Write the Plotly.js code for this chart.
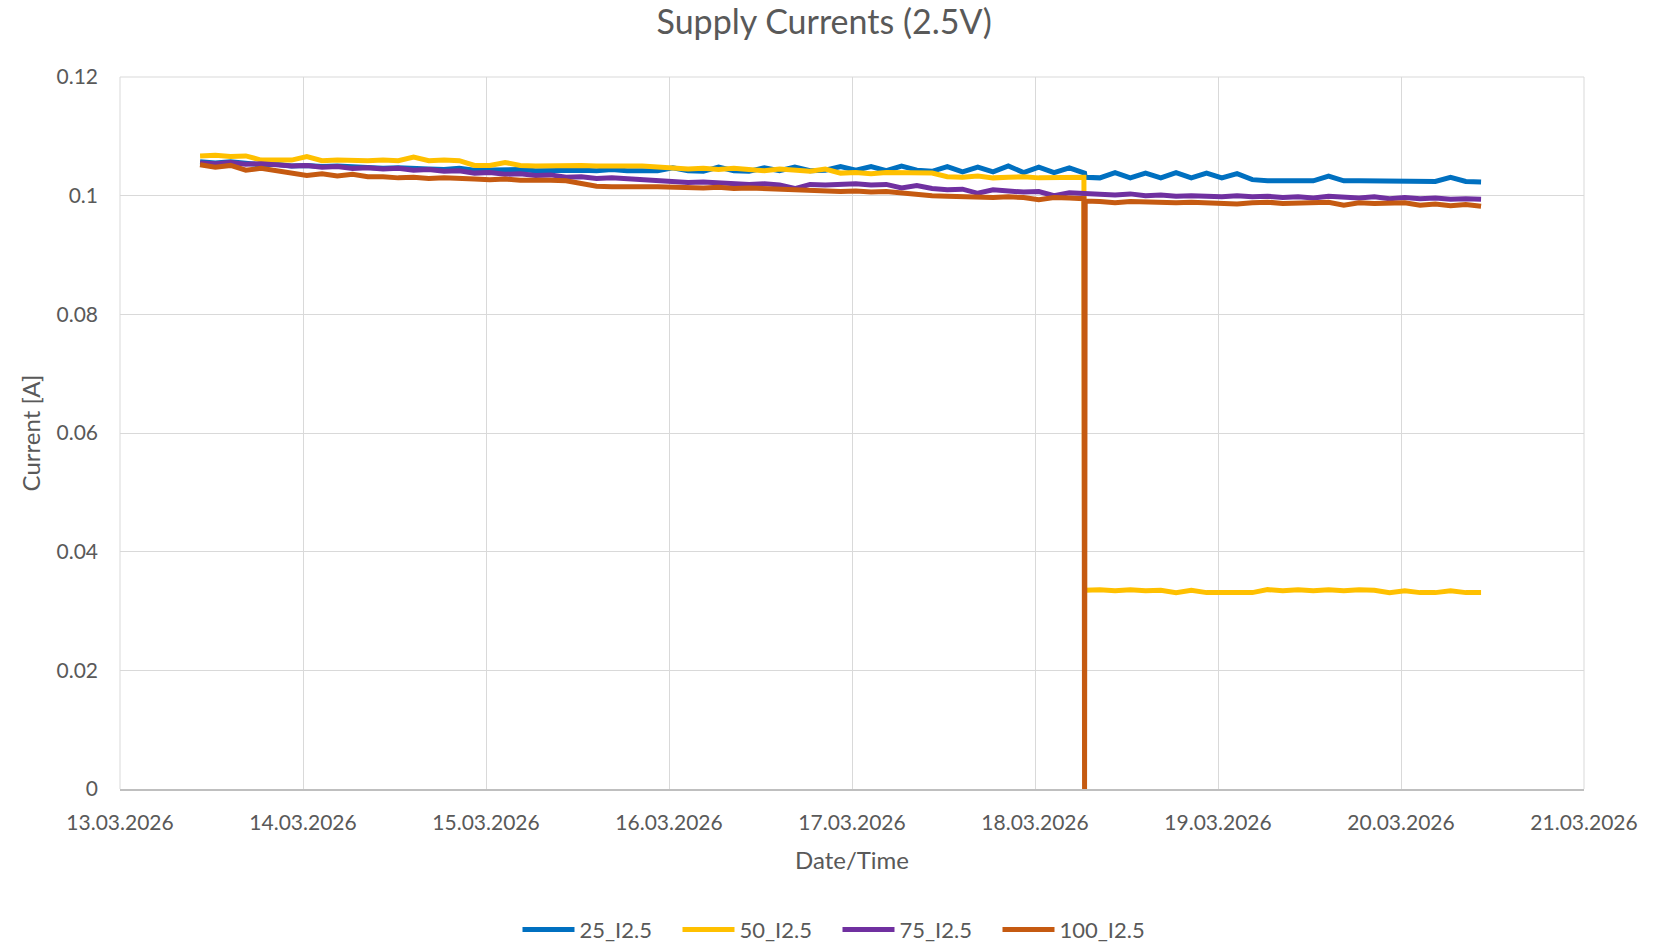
<!DOCTYPE html>
<html>
<head>
<meta charset="utf-8">
<script src="https://cdn.plot.ly/plotly-3.0.1.min.js"></script>
<style>html,body{margin:0;padding:0;background:#fff;}#chart{width:1665px;height:943px;}</style>
</head>
<body>
<div id="chart"></div>
<script>
// Sample times (2-hour steps, with extra samples around the 18.03 06:30 event)
var times = [
  "2026-03-13 10:30","2026-03-13 12:30","2026-03-13 14:30","2026-03-13 16:30","2026-03-13 18:30","2026-03-13 20:30","2026-03-13 22:30",
  "2026-03-14 00:30","2026-03-14 02:30","2026-03-14 04:30","2026-03-14 06:30","2026-03-14 08:30","2026-03-14 10:30","2026-03-14 12:30","2026-03-14 14:30","2026-03-14 16:30","2026-03-14 18:30","2026-03-14 20:30","2026-03-14 22:30",
  "2026-03-15 00:30","2026-03-15 02:30","2026-03-15 04:30","2026-03-15 06:30","2026-03-15 08:30","2026-03-15 10:30","2026-03-15 12:30","2026-03-15 14:30","2026-03-15 16:30","2026-03-15 18:30","2026-03-15 20:30","2026-03-15 22:30",
  "2026-03-16 00:30","2026-03-16 02:30","2026-03-16 04:30","2026-03-16 06:30","2026-03-16 08:30","2026-03-16 10:30","2026-03-16 12:30","2026-03-16 14:30","2026-03-16 16:30","2026-03-16 18:30","2026-03-16 20:30","2026-03-16 22:30",
  "2026-03-17 00:30","2026-03-17 02:30","2026-03-17 04:30","2026-03-17 06:30","2026-03-17 08:30","2026-03-17 10:30","2026-03-17 12:30","2026-03-17 14:30","2026-03-17 16:30","2026-03-17 18:30","2026-03-17 20:30","2026-03-17 22:30",
  "2026-03-18 00:30","2026-03-18 02:30","2026-03-18 04:30","2026-03-18 06:25","2026-03-18 06:30","2026-03-18 06:35","2026-03-18 08:30","2026-03-18 10:30","2026-03-18 12:30","2026-03-18 14:30","2026-03-18 16:30","2026-03-18 18:30","2026-03-18 20:30","2026-03-18 22:30",
  "2026-03-19 00:30","2026-03-19 02:30","2026-03-19 04:30","2026-03-19 06:30","2026-03-19 08:30","2026-03-19 10:30","2026-03-19 12:30","2026-03-19 14:30","2026-03-19 16:30","2026-03-19 18:30","2026-03-19 20:30","2026-03-19 22:30",
  "2026-03-20 00:30","2026-03-20 02:30","2026-03-20 04:30","2026-03-20 06:30","2026-03-20 08:30","2026-03-20 10:30"
];

var seriesNames = ["25_I2.5","50_I2.5","75_I2.5","100_I2.5"];

var i25 = [
  0.1057,0.1055,0.1057,0.1054,0.1052,0.1053,
  0.1050,0.1051,0.1049,0.1050,0.1048,0.1047,
  0.1046,0.1047,0.1045,0.1045,0.1044,0.1046,
  0.1043,0.1044,0.1043,0.1044,0.1042,0.1043,
  0.1042,0.1043,0.1042,0.1044,0.1042,0.1042,
  0.1042,0.1047,0.1042,0.1041,0.1048,0.1042,
  0.1041,0.1047,0.1042,0.1048,0.1042,0.1043,
  0.1049,0.1043,0.1049,0.1042,0.1050,0.1043,
  0.1041,0.1049,0.1040,0.1048,0.1040,0.1050,
  0.1039,0.1048,0.1039,0.1047,
  0.1038,0.1038,0.1031,
  0.1030,0.1039,0.1030,0.1038,0.1030,0.1039,0.1030,
  0.1038,0.1030,0.1037,0.1027,0.1025,0.1025,
  0.1025,0.1025,0.1033,0.1025,0.1025,0.1025,
  0.1025,0.1025,0.1024,0.1024,0.1031,0.1024,0.1023
];

var i50 = [
  0.1067,0.1068,0.1066,0.1067,0.1060,0.1059,
  0.1060,0.1066,0.1059,0.1060,0.1059,0.1059,
  0.1060,0.1059,0.1065,0.1059,0.1060,0.1059,
  0.1051,0.1051,0.1056,0.1051,0.1050,0.1051,
  0.1050,0.1051,0.1050,0.1049,0.1050,0.1050,
  0.1048,0.1046,0.1045,0.1046,0.1044,0.1046,
  0.1045,0.1042,0.1045,0.1044,0.1041,0.1045,
  0.1038,0.1039,0.1037,0.1039,0.1038,0.1037,
  0.1038,0.1032,0.1031,0.1033,0.1030,0.1031,
  0.1032,0.1030,0.1031,0.1032,
  0.1031,0.0334,0.0335,
  0.0336,0.0334,0.0336,0.0334,0.0335,0.0331,0.0335,
  0.0331,0.0331,0.0331,0.0331,0.0336,0.0334,
  0.0336,0.0334,0.0336,0.0334,0.0336,0.0335,
  0.0331,0.0334,0.0331,0.0331,0.0334,0.0331,0.0331
];

var i75 = [
  0.1055,0.1054,0.1056,0.1053,0.1054,0.1052,
  0.1050,0.1051,0.1048,0.1049,0.1046,0.1047,
  0.1045,0.1046,0.1043,0.1044,0.1041,0.1042,
  0.1038,0.1039,0.1036,0.1037,0.1034,0.1035,
  0.1031,0.1032,0.1029,0.1030,0.1028,0.1026,
  0.1024,0.1023,0.1022,0.1023,0.1021,0.1020,
  0.1019,0.1020,0.1018,0.1012,0.1019,0.1018,
  0.1019,0.1020,0.1018,0.1019,0.1013,0.1017,
  0.1012,0.1010,0.1011,0.1004,0.1010,0.1008,
  0.1006,0.1007,0.1000,0.1005,
  0.1004,0.1004,0.1003,
  0.1002,0.1001,0.1003,0.1000,0.1001,0.0999,0.1000,
  0.0999,0.0998,0.1000,0.0998,0.0999,0.0997,
  0.0998,0.0996,0.0999,0.0997,0.0996,0.0998,
  0.0995,0.0997,0.0995,0.0996,0.0994,0.0995,0.0994
];

var i100 = [
  0.1052,0.1048,0.1051,0.1043,0.1046,0.1042,
  0.1038,0.1034,0.1037,0.1033,0.1036,0.1032,
  0.1032,0.1030,0.1031,0.1029,0.1030,0.1028,
  0.1028,0.1027,0.1028,0.1026,0.1027,0.1026,
  0.1025,0.1020,0.1016,0.1015,0.1016,0.1015,
  0.1015,0.1014,0.1015,0.1013,0.1014,0.1012,
  0.1013,0.1012,0.1010,0.1008,0.1007,0.1008,
  0.1007,0.1008,0.1006,0.1007,0.1004,0.1002,
  0.1000,0.0999,0.0998,0.0999,0.0997,0.0998,
  0.0997,0.0993,0.0997,0.0996,
  0.0995,0.0000,0.0991,
  0.0990,0.0988,0.0990,0.0989,0.0990,0.0988,0.0989,
  0.0988,0.0989,0.0986,0.0988,0.0989,0.0987,
  0.0988,0.0987,0.0989,0.0984,0.0988,0.0987,
  0.0987,0.0988,0.0984,0.0986,0.0983,0.0985,0.0982
];

var seriesValues = [i25, i50, i75, i100];
var seriesColors = ["#0070C0","#FFC000","#7030A0","#C55A11"];

var FONT = "Lato, 'Open Sans', sans-serif";
var TXT = "#595959";

var traces = seriesNames.map(function(n, k){
  return {
    type: "scatter", mode: "lines", name: n,
    x: times, y: seriesValues[k],
    line: {color: seriesColors[k], width: 5}
  };
});

var layout = {
  width: 1665, height: 943,
  paper_bgcolor: "#ffffff", plot_bgcolor: "#ffffff",
  margin: {l: 120, r: 81, t: 77, b: 154},
  font: {family: FONT, color: TXT, size: 21},
  title: {text: "Supply Currents (2.5V)", font: {family: FONT, size: 34, color: TXT},
          xref: "container", x: 0.495, xanchor: "center", yref: "container", y: 0.977, yanchor: "middle"},
  xaxis: {
    type: "date", range: ["2026-03-13", "2026-03-21"],
    dtick: 86400000, tick0: "2026-03-13", tickformat: "%d.%m.%Y",
    showgrid: true, gridcolor: "#d9d9d9", gridwidth: 1,
    showline: true, linecolor: "#bfbfbf", linewidth: 1.5, mirror: false,
    zeroline: false, ticks: "", ticklabelstandoff: 14,
    tickfont: {family: FONT, size: 21, color: TXT},
    title: {text: "Date/Time", font: {family: FONT, size: 24, color: TXT}, standoff: 19}
  },
  yaxis: {
    range: [0, 0.12], dtick: 0.02, tick0: 0,
    showgrid: true, gridcolor: "#d9d9d9", gridwidth: 1,
    showline: false, zeroline: false, ticks: "", ticklabelstandoff: 21,
    tickfont: {family: FONT, size: 21, color: TXT},
    title: {text: "Current [A]", font: {family: FONT, size: 24, color: TXT}, standoff: 9}
  },
  shapes: [
    {type: "line", xref: "paper", yref: "paper", x0: 1, x1: 1, y0: 0, y1: 1, line: {color: "#d9d9d9", width: 1}},
    {type: "line", xref: "paper", yref: "paper", x0: 0, x1: 0, y0: 0, y1: 1, line: {color: "#d9d9d9", width: 1}},
    {type: "line", xref: "paper", yref: "paper", x0: 0, x1: 1, y0: 1, y1: 1, line: {color: "#d9d9d9", width: 1}}
  ],
  showlegend: true,
  legend: {orientation: "h", xref: "container", yref: "container", x: 0.503, xanchor: "center", y: 0.014, yanchor: "middle",
           font: {family: FONT, size: 22, color: TXT}, itemwidth: 52, entrywidth: 93, entrywidthmode: "pixels", traceorder: "normal"},
  hovermode: false
};

Plotly.newPlot("chart", traces, layout, {displayModeBar: false, staticPlot: true});
</script>
</body>
</html>
